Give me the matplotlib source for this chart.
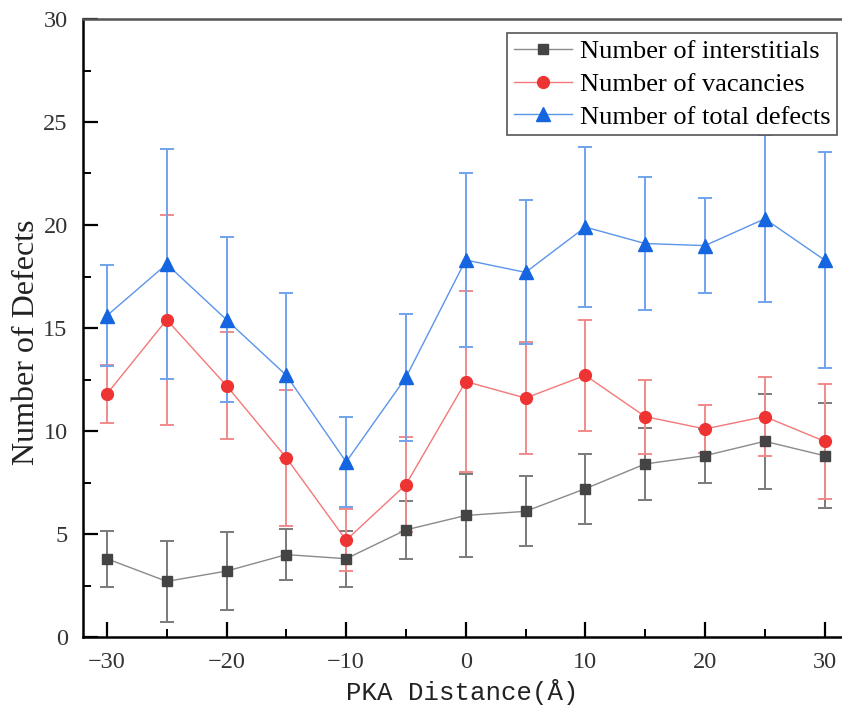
import numpy as np
import matplotlib
matplotlib.use('Agg')
import matplotlib.pyplot as plt
from matplotlib.lines import Line2D
from matplotlib.ticker import MultipleLocator

# PKA distance (Angstrom)
distance = [-30, -25, -20, -15, -10, -5, 0, 5, 10, 15, 20, 25, 30]

# mean values
interstitials = [3.8, 2.7, 3.2, 4.0, 3.8, 5.2, 5.9, 6.1, 7.2, 8.4, 8.8, 9.5, 8.8]
vacancies = [11.8, 15.4, 12.2, 8.7, 4.7, 7.4, 12.4, 11.6, 12.7, 10.7, 10.1, 10.7, 9.5]
total_defects = [15.6, 18.1, 15.4, 12.7, 8.5, 12.6, 18.3, 17.7, 19.9, 19.1, 19.0, 20.3, 18.3]

# error bar half-widths
interstitials_err = [1.35, 1.95, 1.9, 1.25, 1.35, 1.4, 2.0, 1.7, 1.7, 1.75, 1.3, 2.3, 2.55]
vacancies_err = [1.4, 5.1, 2.6, 3.3, 1.5, 2.3, 4.4, 2.7, 2.7, 1.8, 1.15, 1.9, 2.8]
total_err = [2.45, 5.6, 4.0, 4.0, 2.2, 3.1, 4.2, 3.5, 3.9, 3.25, 2.3, 4.05, 5.25]

series = [
    ('Number of interstitials', interstitials, interstitials_err, 's', '#444444', '#8a8a8a', '#7a7a7a', 7.5),
    ('Number of vacancies', vacancies, vacancies_err, 'o', '#ee3333', '#f47878', '#f08a8a', 8.5),
    ('Number of total defects', total_defects, total_err, '^', '#1565e0', '#5a95ea', '#6fa3ee', 9.5),
]

fig = plt.figure(figsize=(8.42, 7.12), dpi=100)
ax = fig.add_axes([83 / 842, 75 / 712, 759.5 / 842, 618 / 712])

handles = []
for label, y, err, mk, mcol, lcol, ecol, ms in series:
    ax.errorbar(distance, y, yerr=err, fmt='none', ecolor=ecol, elinewidth=1.4,
                capsize=5, capthick=1.4, zorder=2)
    ax.plot(distance, y, color=lcol, linewidth=1.0, zorder=3)
    ax.plot(distance, y, linestyle='none', marker=mk, markersize=ms,
            color=mcol, markeredgecolor=mcol, zorder=4)
    handles.append(Line2D([], [], color=lcol, linewidth=1.0, marker=mk,
                          markersize=ms, markerfacecolor=mcol, markeredgecolor=mcol, label=label))

ax.set_xlim(-32, 31.5)
ax.set_ylim(0, 30)
ax.xaxis.set_major_locator(MultipleLocator(10))
ax.xaxis.set_minor_locator(MultipleLocator(5))
ax.yaxis.set_major_locator(MultipleLocator(5))
ax.yaxis.set_minor_locator(MultipleLocator(2.5))

ax.spines['right'].set_visible(False)
ax.spines['left'].set_linewidth(1.8)
ax.spines['bottom'].set_linewidth(1.8)
ax.spines['top'].set_linewidth(1.8)
ax.spines['top'].set_color('#555555')

ax.tick_params(axis='both', which='major', direction='in', length=11, width=1.6,
               top=False, right=False, labelsize=17.5, pad=11)
ax.tick_params(axis='both', which='minor', direction='in', length=5.5, width=1.4,
               top=False, right=False)
for lbl in ax.get_xticklabels() + ax.get_yticklabels():
    lbl.set_fontfamily('Liberation Serif')
    lbl.set_color('#333333')

ax.set_xlabel('PKA Distance(Å)', fontfamily='Liberation Mono', fontsize=18.5,
              color='#222222', labelpad=4)
ax.set_ylabel('Number of Defects', fontfamily='Liberation Serif', fontsize=23,
              color='#222222')
ax.yaxis.set_label_coords(-0.055, 0.477)

leg = ax.legend(handles=handles, loc='upper right', bbox_to_anchor=(0.993, 0.977),
                prop={'family': 'Liberation Serif', 'size': 19}, fancybox=False,
                edgecolor='#555555', framealpha=1, borderpad=0.25, labelspacing=0.35,
                handlelength=2.2, handletextpad=0.3, borderaxespad=0)
leg.get_frame().set_linewidth(1.2)

fig.savefig('out.png', dpi=100)
